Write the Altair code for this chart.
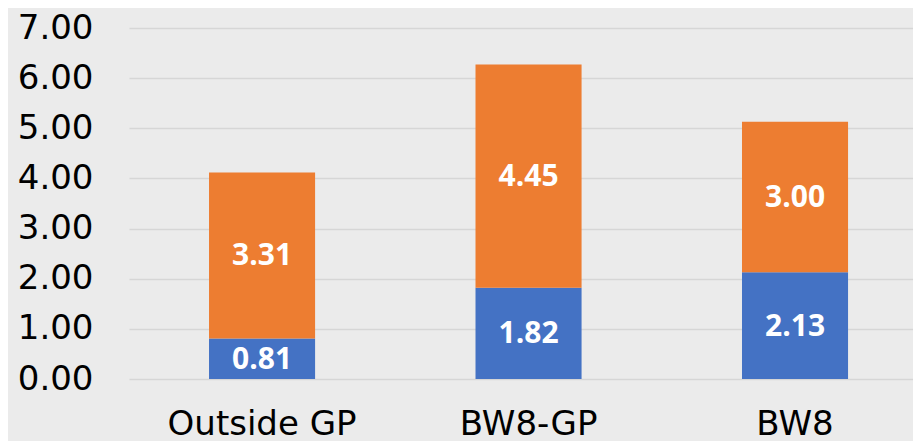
import altair as alt
import pandas as pd

categories = ["Outside GP", "BW8-GP", "BW8"]
blue_values = [0.81, 1.82, 2.13]
orange_values = [3.31, 4.45, 3.00]
y_ticks = [0, 1, 2, 3, 4, 5, 6, 7]
series_names = ["lower", "upper"]
series_colors = ["#4472C4", "#ED7D31"]

rows = []
for c, b, o in zip(categories, blue_values, orange_values):
    rows.append({"cat": c, "series": series_names[0], "value": b, "start": 0.0, "end": b})
    rows.append({"cat": c, "series": series_names[1], "value": o, "start": b, "end": b + o})
df = pd.DataFrame(rows)
df["mid"] = (df["start"] + df["end"]) / 2
df["label"] = df["value"].map(lambda v: f"{v:.2f}")

axis_font = "DejaVu Sans"

x = alt.X(
    "cat:N",
    sort=categories,
    scale=alt.Scale(paddingInner=0.602, paddingOuter=0.272, align=0.552),
    axis=alt.Axis(
        title=None, labelAngle=0, labelFont=axis_font, labelFontSize=34,
        labelColor="#000000", ticks=False, domain=False, grid=False,
        labelPadding=28, maxExtent=56, minExtent=56, labelLimit=400,
    ),
)

base = alt.Chart(df)

bars = base.mark_bar().encode(
    x=x,
    y=alt.Y(
        "start:Q",
        scale=alt.Scale(domain=[0, 7], nice=False),
        axis=alt.Axis(
            values=y_ticks, format=".2f", title=None, labelFont=axis_font,
            labelFontSize=34, labelColor="#000000", ticks=False, domain=False,
            labelPadding=36, gridColor="#d6d6d6", gridWidth=1.5,
            minExtent=116, maxExtent=116,
        ),
    ),
    y2="end:Q",
    color=alt.Color(
        "series:N",
        scale=alt.Scale(domain=series_names, range=series_colors),
        legend=None,
    ),
)

labels = base.mark_text(
    font="Open Sans", fontWeight="bold", fontSize=30, color="white",
    baseline="middle", align="center", dy=1,
).encode(
    x=alt.X("cat:N", sort=categories),
    y=alt.Y("mid:Q"),
    text="label:N",
)

chart = (
    alt.layer(bars, labels)
    .properties(
        width=784, height=351,
        padding={"left": 5, "top": 3, "right": 0, "bottom": 0},
        background="#ebebeb",
    )
    .configure_view(stroke=None)
)

chart.save("out.html", embed_options={"renderer": "svg", "actions": False})
